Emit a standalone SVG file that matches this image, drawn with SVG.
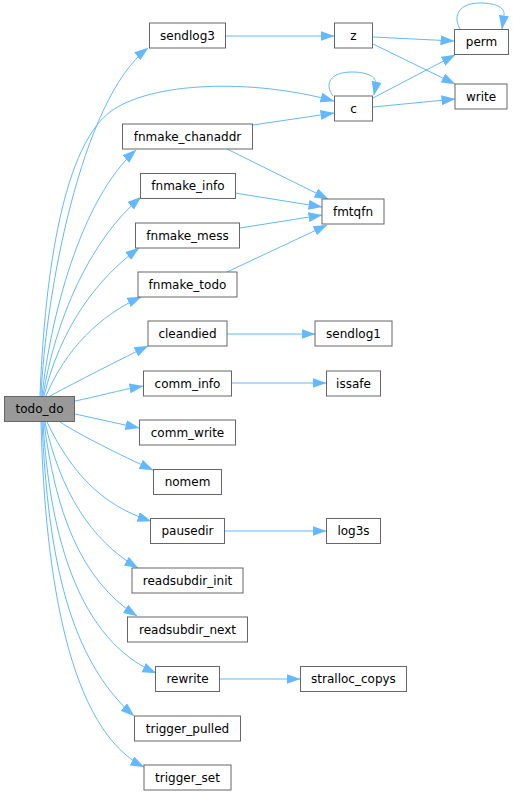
<svg xmlns="http://www.w3.org/2000/svg" width="513" height="796" viewBox="0 0 513 796">
<style>
.n rect{fill:#fff;stroke:#666;stroke-width:1}
.n text{font-family:"DejaVu Sans",sans-serif;font-size:12px;fill:#000;text-anchor:middle}
#todo_do rect{fill:#999}
.e path{fill:none;stroke:#63b8ff;stroke-width:1;marker-end:url(#ah)}
</style>
<defs>
<marker id="ah" markerUnits="userSpaceOnUse" markerWidth="15" markerHeight="11" refX="13.5" refY="5" orient="auto">
<path d="M0,0 L14,5 L0,10 z" fill="#63b8ff"/>
</marker>
</defs>
<g class="e" id="edges">
<path d="M41,396 C45,300 80,100 148,48"/>
<path d="M40,396 C44,290 60,150 110,112 C150,82 250,78 334,101"/>
<path d="M42,396 C50,320 80,200 136,150"/>
<path d="M43,396 C55,320 90,240 141,197"/>
<path d="M44,396 C60,330 95,280 139,248"/>
<path d="M46,396 C65,350 100,315 141,297"/>
<path d="M50,396 C80,380 115,362 148,346"/>
<path d="M75,401 C95,397 120,390 143,386"/>
<path d="M75,414 L139,428"/>
<path d="M60,422 C80,435 120,455 153,470"/>
<path d="M47,422 C70,470 100,505 151,521"/>
<path d="M45,422 C60,490 90,540 138,568"/>
<path d="M44,422 C55,510 80,580 137,616"/>
<path d="M43,422 C50,540 80,640 156,673"/>
<path d="M42,422 C48,560 70,660 134,716"/>
<path d="M41,422 C45,580 70,730 144,767"/>
<path d="M226,36 L334,36"/>
<path d="M373,37 L454,41"/>
<path d="M373,44 L455,84"/>
<path d="M373,98 L455,55"/>
<path d="M373,107 L455,99"/>
<path d="M333,96 C324,84 330,72 352,72 C366,72 377,76 376,85 L374,95"/>
<path d="M460,29 C452,15 460,3 480,3 C497,3 505,8 504,15 L502,29"/>
<path d="M253,125 L334,113"/>
<path d="M227,149 L328,199"/>
<path d="M235,193 L322,207"/>
<path d="M240,228 L322,215"/>
<path d="M227,272 L327,225"/>
<path d="M227,334 L315,334"/>
<path d="M231,383 L326,383"/>
<path d="M224,531 L326,531"/>
<path d="M219,679 L300,679"/>
</g>
<g class="n" id="todo_do"><rect x="4.5" y="396.5" width="70" height="25"/><text x="39.5" y="413">todo_do</text></g>
<g class="n" id="sendlog3"><rect x="149.5" y="23" width="76" height="25"/><text x="187.5" y="39.5">sendlog3</text></g>
<g class="n" id="fnmake_chanaddr"><rect x="122.5" y="124" width="130" height="25"/><text x="187.5" y="140.5">fnmake_chanaddr</text></g>
<g class="n" id="fnmake_info"><rect x="140.5" y="173.5" width="95" height="25"/><text x="188" y="190">fnmake_info</text></g>
<g class="n" id="fnmake_mess"><rect x="135.5" y="223" width="104" height="25"/><text x="187.5" y="239.5">fnmake_mess</text></g>
<g class="n" id="fnmake_todo"><rect x="138" y="272" width="99" height="25"/><text x="187.5" y="288.5">fnmake_todo</text></g>
<g class="n" id="cleandied"><rect x="148" y="321" width="79" height="25"/><text x="187.5" y="337.5">cleandied</text></g>
<g class="n" id="comm_info"><rect x="143.5" y="371" width="88" height="25"/><text x="187.5" y="387.5">comm_info</text></g>
<g class="n" id="comm_write"><rect x="139.5" y="420" width="96" height="25"/><text x="187.5" y="436.5">comm_write</text></g>
<g class="n" id="nomem"><rect x="153.5" y="469.5" width="68" height="25"/><text x="187.5" y="486">nomem</text></g>
<g class="n" id="pausedir"><rect x="150.5" y="518.5" width="74" height="25"/><text x="187.5" y="535">pausedir</text></g>
<g class="n" id="readsubdir_init"><rect x="132" y="568" width="111" height="25"/><text x="187.5" y="584.5">readsubdir_init</text></g>
<g class="n" id="readsubdir_next"><rect x="127.5" y="617" width="120" height="25"/><text x="187.5" y="633.5">readsubdir_next</text></g>
<g class="n" id="rewrite"><rect x="155.5" y="666.5" width="64" height="25"/><text x="187.5" y="683">rewrite</text></g>
<g class="n" id="trigger_pulled"><rect x="134.5" y="716" width="106" height="25"/><text x="187.5" y="732.5">trigger_pulled</text></g>
<g class="n" id="trigger_set"><rect x="144" y="765" width="87" height="25"/><text x="187.5" y="781.5">trigger_set</text></g>
<g class="n" id="z"><rect x="334.5" y="23" width="38" height="25"/><text x="353.5" y="39.5">z</text></g>
<g class="n" id="c"><rect x="334.5" y="96" width="38" height="25"/><text x="353.5" y="112.5">c</text></g>
<g class="n" id="perm"><rect x="454.5" y="29.5" width="54" height="25"/><text x="481.5" y="46">perm</text></g>
<g class="n" id="write"><rect x="455" y="84" width="52" height="25"/><text x="481" y="100.5">write</text></g>
<g class="n" id="fmtqfn"><rect x="322" y="199" width="62" height="25"/><text x="353" y="215.5">fmtqfn</text></g>
<g class="n" id="sendlog1"><rect x="315" y="321" width="77" height="25"/><text x="353.5" y="337.5">sendlog1</text></g>
<g class="n" id="issafe"><rect x="326.5" y="371" width="54" height="25"/><text x="353.5" y="387.5">issafe</text></g>
<g class="n" id="log3s"><rect x="326.5" y="518.5" width="54" height="25"/><text x="353.5" y="535">log3s</text></g>
<g class="n" id="stralloc_copys"><rect x="300.5" y="666.5" width="106" height="25"/><text x="353.5" y="683">stralloc_copys</text></g>
</svg>
